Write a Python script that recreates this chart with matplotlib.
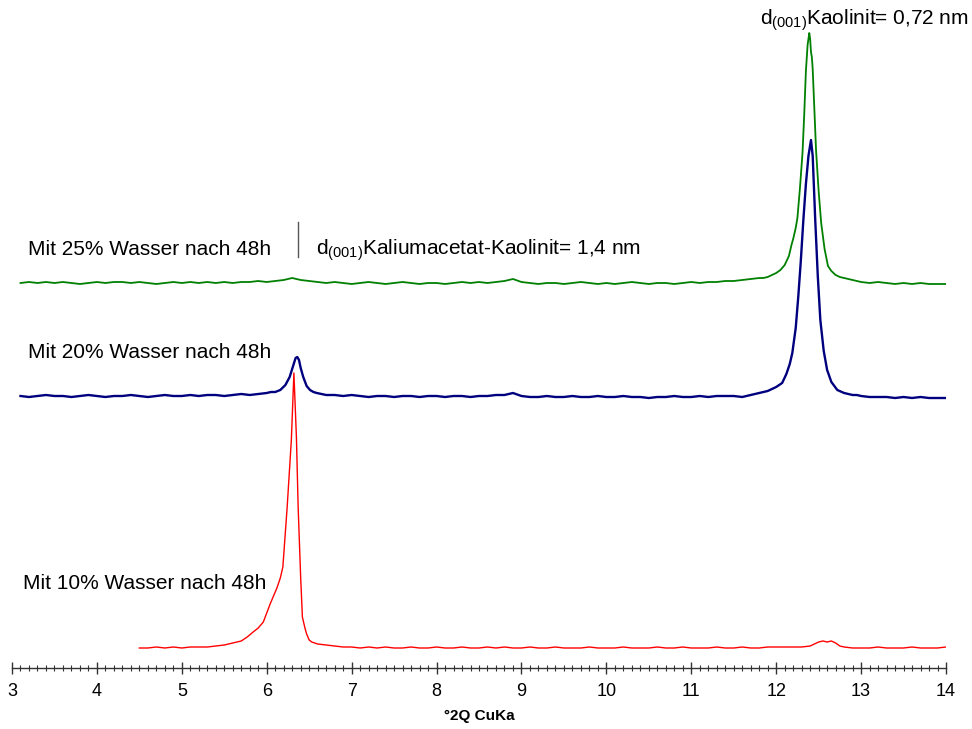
import matplotlib
matplotlib.use("Agg")
import matplotlib.pyplot as plt
from matplotlib.ticker import MultipleLocator

plt.rcParams['font.family'] = ['Liberation Sans', 'DejaVu Sans']
plt.rcParams['mathtext.default'] = 'regular'

# ---- data (intensity above each trace's own baseline, arbitrary units) ----
green_x = [3.1,3.2,3.3,3.4,3.5,3.6,3.7,3.8,3.9,4.0,
           4.1,4.2,4.3,4.4,4.5,4.6,4.7,4.8,4.9,5.0,
           5.1,5.2,5.3,5.4,5.5,5.6,5.7,5.8,5.9,6.0,
           6.1,6.2,6.3,6.4,6.5,6.6,6.7,6.8,6.9,7.0,
           7.1,7.2,7.3,7.4,7.5,7.6,7.7,7.8,7.9,8.0,
           8.1,8.2,8.3,8.4,8.5,8.6,8.7,8.8,8.9,9.0,
           9.1,9.2,9.3,9.4,9.5,9.6,9.7,9.8,9.9,10.0,
           10.1,10.2,10.3,10.4,10.5,10.6,10.7,10.8,10.9,11.0,
           11.1,11.2,11.3,11.4,11.5,11.6,11.7,11.8,
           11.85,11.9,11.95,12.0,12.05,12.1,12.15,12.18,12.2,12.23,12.25,12.28,
           12.31,12.33,12.35,12.37,12.39,12.4,12.41,12.42,12.43,12.45,12.47,12.5,
           12.53,12.57,12.61,12.65,12.7,12.75,12.8,12.9,13.0,13.1,13.2,13.3,
           13.4,13.5,13.6,13.7,13.8,13.9,14.0]
green_y = [0,1,0,1,0,1,0,-1,0,1,
           0,1,1,0,1,0,-1,0,1,0,
           1,0,1,0,1,0,1,1,2,1,
           2,3,5,3,2,1,0,1,0,-1,
           0,1,0,-1,0,1,0,-1,0,0,
           -1,0,1,0,1,0,1,2,4,1,
           0,-1,0,0,-1,0,1,0,-1,0,
           -1,0,1,0,-1,0,0,-1,0,1,
           0,1,1,2,2,3,4,5,
           5,6,8,10,13,18,27,38,44,55,65,95,
           130,168,212,238,250,244,231,226,214,172,132,92,
           60,34,17,12,8,6,5,3,1,0,1,0,
           -1,0,-1,0,-1,-1,-1]

blue_x = [3.1,3.2,3.3,3.4,3.5,3.6,3.7,3.8,3.9,4.0,
          4.1,4.2,4.3,4.4,4.5,4.6,4.7,4.8,4.9,5.0,
          5.1,5.2,5.3,5.4,5.5,5.6,5.7,5.8,5.9,6.0,
          6.05,6.1,6.16,6.22,6.27,6.31,6.34,6.36,6.38,6.4,6.43,6.47,6.51,6.55,6.59,
          6.7,6.8,6.9,7.0,7.1,7.2,7.3,7.4,7.5,7.6,7.7,7.8,7.9,8.0,
          8.1,8.2,8.3,8.4,8.5,8.6,8.7,8.8,8.9,9.0,
          9.1,9.2,9.3,9.4,9.5,9.6,9.7,9.8,9.9,10.0,
          10.1,10.2,10.3,10.4,10.5,10.6,10.7,10.8,10.9,11.0,
          11.1,11.2,11.3,11.4,11.5,11.6,11.7,11.8,11.9,12.0,
          12.07,12.12,12.16,12.19,12.23,12.26,12.29,12.32,12.35,12.38,12.41,
          12.43,12.46,12.49,12.52,12.56,12.6,12.65,12.72,12.8,12.9,12.95,
          13.0,13.1,13.2,13.3,13.4,13.5,13.6,13.7,13.8,13.9,14.0]
blue_y = [0,-1,0,1,0,0,-1,0,1,0,
          -1,0,0,1,0,-1,0,1,0,0,
          1,0,1,1,0,1,2,1,2,3,
          4,4,6,11,19,30,38,39,36,28,19,10,6,4,3,
          1,1,0,1,0,-1,0,0,-1,0,0,-1,0,0,
          -1,0,0,-1,0,0,1,1,3,0,
          -1,-1,0,-1,-1,0,-1,-1,0,-1,
          -1,0,-1,-1,-2,-1,-1,0,-1,-1,
          0,-1,0,0,0,-1,1,3,5,9,
          13,22,32,43,68,99,135,176,212,240,256,
          240,176,120,76,45,26,14,6,3,1,1,
          0,-1,-1,-1,-2,-1,-2,-1,-2,-2,-2]

red_x = [4.5,4.6,4.7,4.8,4.9,5.0,5.1,5.2,5.3,5.4,5.5,5.6,5.65,5.7,5.77,5.84,5.9,5.96,
         6.0,6.04,6.08,6.12,6.16,6.19,6.24,6.29,6.32,6.35,6.37,6.4,6.42,6.45,6.47,6.5,
         6.53,6.6,6.7,6.8,6.9,7.0,7.1,7.2,7.3,7.4,7.5,7.6,7.7,7.8,7.9,8.0,
         8.1,8.2,8.3,8.4,8.5,8.6,8.7,8.8,8.9,9.0,
         9.1,9.2,9.3,9.4,9.5,9.6,9.7,9.8,9.9,10.0,
         10.1,10.2,10.3,10.4,10.5,10.6,10.7,10.8,10.9,11.0,
         11.1,11.2,11.3,11.4,11.5,11.6,11.7,11.8,11.9,12.0,
         12.1,12.2,12.3,12.4,12.45,12.5,12.55,12.6,12.65,12.7,12.75,12.8,12.9,
         13.0,13.1,13.2,13.3,13.4,13.5,13.6,13.7,13.8,13.9,14.0]
red_y = [0,0,1,0,1,0,1,1,1,2,3,5,6,7,11,16,20,26,
         35,44,52,60,70,81,140,208,275,210,141,70,31,20,14,8,
         6,4,3,2,1,1,0,1,0,1,0,0,1,0,0,1,
         0,0,1,0,0,1,0,1,0,0,
         1,0,0,1,0,0,0,1,0,0,
         0,1,0,0,0,1,0,0,1,0,
         0,0,1,0,0,1,0,0,1,1,
         1,1,1,2,4,6,7,6,7,5,2,1,0,
         0,0,1,0,0,0,1,0,0,0,1]

offsets = {'red': 20, 'blue': 272, 'green': 385}

sample_labels = ["Mit 10% Wasser nach 48h", "Mit 20% Wasser nach 48h", "Mit 25% Wasser nach 48h"]
peak_label_top = "d$_{(001)}$Kaolinit= 0,72 nm"
peak_label_mid = "d$_{(001)}$Kaliumacetat-Kaolinit= 1,4 nm"

# ---- figure ----
fig = plt.figure(figsize=(9.72, 7.29), dpi=100)
ax = fig.add_axes([12/972, 1 - 668/729, (946 - 12)/972, 668/729])

ax.plot(green_x, [v + offsets['green'] for v in green_y], color='#008000', lw=1.3)
ax.plot(blue_x, [v + offsets['blue'] for v in blue_y], color='#00007F', lw=1.7)
ax.plot(red_x, [v + offsets['red'] for v in red_y], color='#FF0000', lw=1.0)

ax.set_xlim(3, 14)
ax.set_ylim(0, 668)

for s in ['top', 'right', 'left']:
    ax.spines[s].set_visible(False)
ax.spines['bottom'].set_color('#333333')
ax.spines['bottom'].set_linewidth(1.0)
ax.set_yticks([])
ax.xaxis.set_major_locator(MultipleLocator(1))
ax.xaxis.set_minor_locator(MultipleLocator(0.1))
ax.tick_params(axis='x', which='major', direction='inout', length=8, width=1.0,
               color='#333333', labelsize=13, pad=7)
ax.tick_params(axis='x', which='minor', direction='inout', length=4, width=0.8,
               color='#333333')
ax.set_xlabel("°2Q CuKa", fontsize=11, fontweight='bold', labelpad=6)

fs = 15
ax.text(3.13, 79, sample_labels[0], fontsize=fs, va='baseline', ha='left')
ax.text(3.19, 310, sample_labels[1], fontsize=fs, va='baseline', ha='left')
ax.text(3.19, 413, sample_labels[2], fontsize=fs, va='baseline', ha='left')

ax.plot([6.37, 6.37], [411, 446], color='#555555', lw=1.0)
ax.text(6.58, 413, peak_label_mid, fontsize=fs, va='baseline', ha='left')
ax.text(11.81, 643, peak_label_top, fontsize=fs, va='baseline', ha='left')

fig.savefig("out.png", dpi=100)
